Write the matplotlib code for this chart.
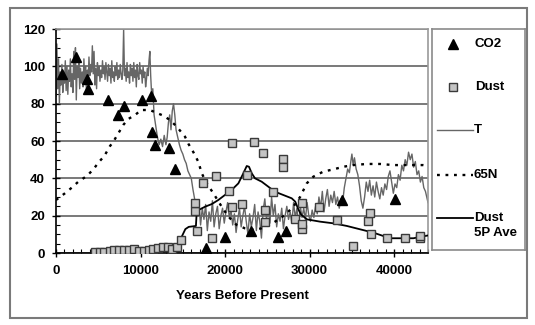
import matplotlib.pyplot as plt
from matplotlib.patches import Rectangle
from matplotlib.ticker import MultipleLocator

plt.rcParams['font.family'] = ['Liberation Sans', 'DejaVu Sans']
plt.rcParams['font.weight'] = 'bold'

# CO2 samples
co2_age = [700, 2330, 3700, 3820, 6190, 7370, 8050, 10210, 11200, 11320,
           11720, 13370, 14080, 17750, 20000, 23080, 26310, 27220, 33810, 40120]
co2_val = [96, 105, 93, 88, 82, 74, 79, 82, 84, 65,
           58, 56, 45, 2.5, 8.7, 12, 8.4, 12, 28.4, 28.9]

# dust samples
dust_age = [4610, 5200, 5680, 6390, 6860, 7450, 8040, 8640, 9230, 9820,
            10410, 11000, 11480, 12070, 12660, 13250, 13720, 14310, 14800, 16440,
            16440, 16640, 17430, 18420, 18890, 20460, 20860, 20860, 21970, 22560,
            23420, 24530, 24730, 24730, 25710, 26890, 26890, 28280, 29060, 29140,
            29140, 31150, 33200, 35090, 36950, 37150, 37230, 39190, 41290, 43060,
            43060]
dust_val = [0.7, 0.7, 0.7, 1.0, 1.4, 1.8, 1.8, 1.8, 2.2, 1.2,
            1.1, 1.5, 2.0, 2.5, 3.0, 3.0, 2.0, 3.2, 6.8, 22.5,
            27, 12, 37.7, 8.2, 41.2, 33.4, 24.8, 58.8, 26.1, 41.8,
            59.3, 53.4, 23, 16.8, 32.8, 50.2, 45.9, 18, 12.7, 27,
            15.5, 24.5, 17.7, 3.8, 17.3, 21.3, 10.2, 7.9, 7.9, 7.9,
            9.0]

# 5-point running average of dust
ave_age = [4600, 6000, 8000, 10000, 12000, 13500, 14000, 14500, 14900, 15300,
           15700, 16400, 16550, 16650, 17630, 18420, 19200, 19990, 20780, 21570,
           22160, 22560, 22830, 23150, 23540, 24330, 25120, 25910, 26700, 27880,
           28300, 28700, 29000, 29700, 31230, 32800, 34390, 35960, 37540, 38720,
           39510, 42270, 44000]
ave_val = [0.8, 1.0, 1.6, 1.6, 2.0, 2.6, 3.5, 5.5, 9, 12.8,
           14, 14.4, 14.5, 22.5, 24.8, 26.2, 28.4, 31.1, 33.8, 37.3,
           42.7, 46.6, 46.2, 42.7, 40, 38.2, 35.5, 32.8, 31.4, 29.3,
           27.5, 23, 20.5, 18, 16.8, 15.9, 14.5, 12.7, 10.9, 9.1,
           7.9, 7.9, 9.4]

# 65N insolation
ins_age = [0, 1060, 1860, 2640, 3630, 4420, 5010, 5720, 6390, 6780,
           7370, 7960, 8550, 9350, 10060, 11120, 11710, 12690, 13490, 14280,
           15260, 15660, 16250, 16830, 17240, 17830, 18610, 19600, 20390, 21370,
           22360, 23540, 24730, 25910, 27090, 28070, 28870, 29660, 30440, 31620,
           32800, 33990, 35170, 36750, 38330, 39900, 41480, 43460, 44000]
ins_val = [28.4, 32, 35, 38.2, 41.2, 44.8, 48.4, 52, 57.3, 59.6,
           64.1, 68.6, 71.8, 73.9, 76.6, 76.6, 75.4, 73.6, 71.2, 67.7,
           62.3, 58.5, 54, 48.9, 42.7, 37.3, 32, 24.8, 19.5, 15,
           13.2, 12.3, 13.8, 16.8, 20.4, 24.8, 30, 37.3, 40.9, 43.6,
           44.8, 46.2, 47.1, 47.7, 47.7, 47.1, 47.1, 47.1, 46.8]

# temperature record
t_age = [0, 100, 200, 300, 400, 500, 600, 700, 800, 900,
         1000, 1100, 1200, 1300, 1400, 1500, 1600, 1700, 1800, 1900,
         2000, 2100, 2200, 2300, 2400, 2500, 2600, 2700, 2800, 2900,
         3000, 3100, 3200, 3300, 3400, 3500, 3600, 3700, 3800, 3900,
         4000, 4100, 4200, 4300, 4400, 4500, 4600, 4700, 4800, 4900,
         5000, 5100, 5200, 5300, 5400, 5500, 5600, 5700, 5800, 5900,
         6000, 6100, 6200, 6300, 6400, 6500, 6600, 6700, 6800, 6900,
         7000, 7100, 7200, 7300, 7400, 7500, 7600, 7700, 7800, 7900,
         8000, 8100, 8200, 8300, 8400, 8500, 8600, 8700, 8800, 8900,
         9000, 9100, 9200, 9300, 9400, 9500, 9600, 9700, 9800, 9900,
         10000, 10100, 10200, 10300, 10400, 10500, 10600, 10700, 10800, 10900,
         11000, 11100, 11200, 11300, 11450, 11600, 11800, 12000, 12200, 12400,
         12600, 12800, 13000, 13150, 13300, 13450, 13600, 13750, 13900, 14050,
         14200, 14400, 14600, 14800, 15000, 15200, 15400, 15600, 15800, 16000,
         16200, 16400, 16550,
         16700, 16900, 17100, 17300, 17500, 17700, 17900, 18100, 18300, 18500,
         18700, 18900, 19100, 19300, 19500, 19700, 19900, 20100, 20300, 20500,
         20700, 20900, 21100, 21300, 21500, 21700, 21900, 22100, 22300, 22500,
         22700, 22900, 23100, 23300, 23500, 23700, 23900, 24100, 24300, 24500,
         24700, 24900, 25100, 25300, 25500, 25700, 25900, 26100, 26300, 26500,
         26700, 26900, 27100, 27300, 27500, 27700, 27900, 28100, 28300, 28500,
         28700, 28900, 29100, 29300, 29500, 29700, 29900, 30100, 30300, 30500,
         30700, 30900, 31100, 31300, 31500, 31700, 31900, 32100, 32300, 32500,
         32700, 32900, 33100, 33300, 33500, 33700, 33900, 34100, 34300, 34500,
         34700, 34900, 35000, 35150, 35300, 35500, 35700, 35900, 36100, 36300,
         36500, 36700, 36900, 37100, 37300, 37500, 37700, 37900, 38100, 38300,
         38500, 38700, 38900, 39100, 39300, 39500, 39700, 39900, 40100, 40300,
         40500, 40700, 40900, 41100, 41300, 41500, 41700, 41900, 42100, 42300,
         42500, 42700, 42900, 43100, 43300, 43500, 43700, 43900, 44000]
t_val = [84, 112, 88, 104, 80, 97, 90, 101, 86, 95,
         91, 103, 87, 100, 85, 98, 92, 104, 89, 96,
         86, 108, 93, 110, 82, 100, 94, 103, 88, 99,
         91, 97, 89, 104, 93, 100, 86, 98, 92, 105,
         95, 101, 97, 111, 96, 108, 90, 99, 88, 102,
         95, 100, 92, 98, 94, 103, 96, 100, 93, 102,
         97, 92, 101, 95, 99, 91, 103, 94, 97, 92,
         100, 95, 102, 93, 98, 94, 101, 96, 93, 98,
         120, 95, 99, 92, 102, 94, 97, 91, 101, 95,
         99, 92, 102, 94, 98, 89, 101, 95, 93, 102,
         96, 98, 91, 100, 94, 97, 89, 93, 99, 95,
         103, 108, 95, 86, 88, 74, 68, 62, 58, 61,
         57, 63, 58, 62, 70, 74, 66, 76, 80, 74,
         66, 62, 58, 55, 53, 50, 48, 44, 42, 40,
         34, 29, 25,
         20, 27, 15, 24, 18, 26, 12, 22, 17, 28,
         14, 21, 25, 13, 20, 24, 16, 22, 27, 19,
         23, 15, 21, 11, 18, 24, 14, 20, 25, 17,
         10, 21, 14, 19, 26, 12, 22, 17, 8, 23,
         29, 18, 25, 16, 30, 20, 26, 14, 21, 17,
         24, 13, 20, 25, 18, 22, 16, 27, 19, 24,
         14, 25, 19, 24, 18, 27, 20, 17, 23, 19,
         25, 21, 30, 24, 33, 22, 29, 34, 25, 31,
         27, 33, 26, 30, 24, 29, 27, 35, 40, 45,
         43, 50, 53, 47, 51, 45, 42, 36, 28, 24,
         30, 38, 33, 39, 31, 36, 30, 38, 33, 29,
         35, 31, 37, 34, 41, 44, 38, 32, 37, 35,
         42, 39, 47, 44, 50, 47, 54, 50, 53, 46,
         49, 42, 44, 38, 41, 35, 33, 29, 27]

T_COLOR = '#666666'
DOTS = (0, (1.2, 2.4))

fig = plt.figure(figsize=(5.35, 3.25), dpi=100)
ax = fig.add_axes([56 / 535, 1 - 253 / 325, 372 / 535, 224 / 325])

ax.plot(ins_age, ins_val, color='black', lw=1.7, linestyle=DOTS, zorder=3)
ax.plot(t_age, t_val, color=T_COLOR, lw=1.0, zorder=2)
ax.plot(ave_age, ave_val, color='black', lw=1.3, zorder=4)
ax.plot(dust_age, dust_val, 's', ms=6.3, mfc='#c4c4c4', mec='#3a3a3a', mew=1.0,
        linestyle='none', zorder=5)
ax.plot(co2_age, co2_val, '^', ms=7.5, color='black', linestyle='none', zorder=6)

ax.set_xlim(0, 44000)
ax.set_ylim(0, 120)
ax.xaxis.set_major_locator(MultipleLocator(10000))
ax.xaxis.set_minor_locator(MultipleLocator(1000))
ax.yaxis.set_major_locator(MultipleLocator(20))
ax.yaxis.set_minor_locator(MultipleLocator(5))
ax.tick_params(which='major', direction='inout', length=6, width=1, labelsize=9.5)
ax.tick_params(which='minor', direction='in', length=3, width=0.8)
ax.tick_params(axis='x', which='major', pad=6)
ax.tick_params(axis='y', which='major', pad=5)

ax.grid(axis='y', which='major', color='#555555', lw=1.1)
ax.set_axisbelow(True)
for side in ('top', 'right'):
    ax.spines[side].set_color('#999999')
    ax.spines[side].set_linewidth(1.2)
for side in ('left', 'bottom'):
    ax.spines[side].set_color('black')
    ax.spines[side].set_linewidth(1.2)

ax.set_xlabel('Years Before Present', fontsize=9.5, fontweight='bold', labelpad=9)

# legend panel drawn in pixel-like coordinates
lax = fig.add_axes([432 / 535, 1 - 250 / 325, 93 / 535, 221 / 325])
lax.set_xlim(432, 525)
lax.set_ylim(250, 29)
lax.set_xticks([])
lax.set_yticks([])
for sp in lax.spines.values():
    sp.set_color('#8a8a8a')
    sp.set_linewidth(1.2)

lax.plot([453], [44], '^', ms=7.5, color='black')
lax.text(475, 44, 'CO2', fontsize=9.5, va='center', ha='left')
lax.plot([453], [87], 's', ms=6.3, mfc='#c4c4c4', mec='#3a3a3a', mew=1.0)
lax.text(475, 87, 'Dust', fontsize=9.5, va='center', ha='left')
lax.plot([437, 473], [130, 130], color=T_COLOR, lw=1.0)
lax.text(474, 130, 'T', fontsize=9.5, va='center', ha='left')
lax.plot([437, 473], [175, 175], color='black', lw=1.7, linestyle=DOTS)
lax.text(474, 175, '65N', fontsize=9.5, va='center', ha='left')
lax.plot([437, 473], [218, 218], color='black', lw=1.3)
lax.text(474, 218, 'Dust', fontsize=9.5, va='center', ha='left')
lax.text(474, 233, '5P Ave', fontsize=9.5, va='center', ha='left')

# outer frame around the whole chart
fig.patches.append(Rectangle((10 / 535, 1 - 318 / 325), 517 / 535, 310 / 325,
                             transform=fig.transFigure, fill=False,
                             edgecolor='#7a7a7a', lw=1.5))

fig.savefig('out.png', dpi=100)
